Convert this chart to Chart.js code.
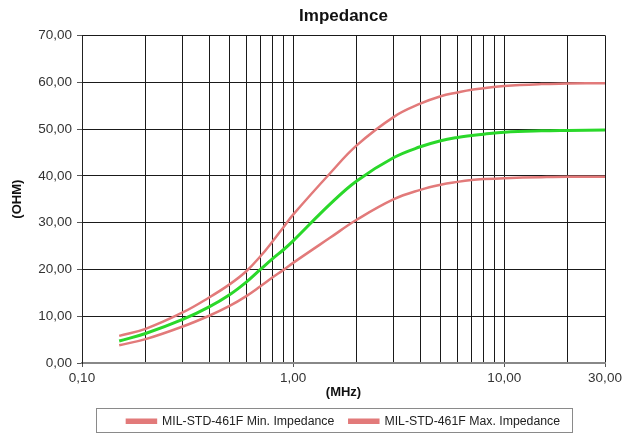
<!DOCTYPE html>
<html>
<head>
<meta charset="utf-8">
<script src="https://cdn.jsdelivr.net/npm/chart.js@4/dist/chart.umd.min.js"></script>
<style>
  html, body { margin: 0; padding: 0; background: #fff; }
  #wrap { width: 630px; height: 434px; }
</style>
</head>
<body>
<div id="wrap"><canvas id="impChart" width="630" height="434"></canvas></div>
<script>
// frekvenser (MHz) och avlästa värden (ohm)
const freqs = [0.15, 0.2, 0.3, 0.4, 0.5, 0.6, 0.7, 0.8, 0.9, 1, 1.5, 2, 3, 4, 5, 6, 7, 8, 10, 15, 20, 30];
const minImp = [3.8, 5.1, 7.8, 10.1, 12.2, 14.3, 16.4, 18.3, 19.9, 21.4, 26.8, 30.6, 35.0, 37.0, 38.1, 38.7, 39.1, 39.3, 39.5, 39.7, 39.8, 39.8];
const nomImp = [4.7, 6.3, 9.3, 12.0, 14.6, 17.3, 20.0, 22.3, 24.2, 26.1, 34.0, 38.9, 43.9, 46.2, 47.5, 48.2, 48.6, 48.9, 49.3, 49.6, 49.7, 49.8];
const maxImp = [5.8, 7.3, 10.8, 14.0, 16.8, 19.6, 22.8, 26.0, 29.0, 31.7, 40.6, 46.5, 52.6, 55.4, 57.0, 57.8, 58.4, 58.7, 59.2, 59.6, 59.7, 59.8];

const xGridTicks = [0.1, 0.2, 0.3, 0.4, 0.5, 0.6, 0.7, 0.8, 0.9, 1, 2, 3, 4, 5, 6, 7, 8, 9, 10, 20, 30];
const xLabelTicks = [0.1, 1, 10, 30];
const yTicks = [0, 10, 20, 30, 40, 50, 60, 70];

const RED = "#e27a7a";
const GREEN = "#2ad82a";
const FONT = "Liberation Sans, Arial";

const toPoints = (vals) => freqs.map((f, i) => ({ x: f, y: vals[i] }));
const fmt = (v) => v.toFixed(2).replace(".", ",");

// legenden: fast höjd + ram runt
const legendBox = {
  id: "legendBox",
  beforeLayout(chart) {
    const lg = chart.legend;
    if (lg && !lg._fixedFit) {
      const orig = lg.fit.bind(lg);
      lg.fit = function () {
        orig();
        this.height = 33;
      };
      lg._fixedFit = true;
    }
  },
  afterDraw(chart) {
    const lg = chart.legend;
    if (!lg || !lg.legendHitBoxes || !lg.legendHitBoxes.length) return;
    const boxes = lg.legendHitBoxes;
    const first = boxes[0];
    const last = boxes[boxes.length - 1];
    const x0 = Math.round(first.left - 31) + 0.5;
    const x1 = Math.round(last.left + last.width + 12) + 0.5;
    const y0 = Math.round(first.top - 7) + 0.5;
    const ctx = chart.ctx;
    ctx.save();
    ctx.strokeStyle = "#8a8a8a";
    ctx.lineWidth = 1;
    ctx.strokeRect(x0, y0, x1 - x0, 24);
    ctx.restore();
  }
};

new Chart(document.getElementById("impChart"), {
  type: "line",
  data: {
    datasets: [
      {
        label: "MIL-STD-461F Min. Impedance",
        data: toPoints(minImp),
        borderColor: RED,
        backgroundColor: RED,
        borderWidth: 2.5,
        pointRadius: 0,
        tension: 0.4,
      },
      {
        label: "MIL-STD-461F Max. Impedance",
        data: toPoints(maxImp),
        borderColor: RED,
        backgroundColor: RED,
        borderWidth: 2.5,
        pointRadius: 0,
        tension: 0.4,
      },
      {
        label: "Nominal",
        data: toPoints(nomImp),
        borderColor: GREEN,
        backgroundColor: GREEN,
        borderWidth: 3,
        pointRadius: 0,
        tension: 0.4,
      },
    ],
  },
  options: {
    responsive: false,
    animation: false,
    layout: { padding: { left: 0, right: 25, top: 0, bottom: 1 } },
    plugins: {
      title: {
        display: true,
        fullSize: false,
        text: "Impedance",
        color: "#111",
        font: { family: FONT, size: 17, weight: "bold" },
        padding: { top: 6, bottom: 9 },
      },
      legend: {
        display: true,
        fullSize: false,
        position: "bottom",
        labels: {
          filter: (item) => item.datasetIndex !== 2,
          color: "#222",
          font: { family: FONT, size: 12.3 },
          boxWidth: 29,
          boxHeight: 3,
          padding: 15,
        },
      },
      tooltip: { enabled: false },
    },
    scales: {
      x: {
        type: "logarithmic",
        min: 0.1,
        max: 30,
        afterBuildTicks: (scale) => {
          scale.ticks = xGridTicks.map((v) => ({ value: v }));
        },
        afterFit: (scale) => {
          scale.height = 37;
        },
        ticks: {
          autoSkip: false,
          maxRotation: 0,
          padding: 3,
          color: "#333",
          font: { family: FONT, size: 13.5 },
          callback: (v) => (xLabelTicks.includes(v) ? fmt(v) : ""),
        },
        grid: {
          color: "#1a1a1a",
          lineWidth: 1,
          tickLength: 4,
          tickColor: (ctx) => (ctx.tick && xLabelTicks.includes(ctx.tick.value) ? "#555" : "rgba(0,0,0,0)"),
        },
        border: { color: "#888", width: 2 },
        title: {
          display: true,
          text: "(MHz)",
          color: "#111",
          font: { family: FONT, size: 13, weight: "bold" },
          padding: { top: 0, bottom: 0 },
        },
      },
      y: {
        min: 0,
        max: 70,
        afterBuildTicks: (scale) => {
          scale.ticks = yTicks.map((v) => ({ value: v }));
        },
        afterFit: (scale) => {
          scale.width = 82;
        },
        ticks: {
          padding: 5,
          color: "#333",
          font: { family: FONT, size: 13.5 },
          callback: (v) => fmt(v),
        },
        grid: {
          color: "#1a1a1a",
          lineWidth: 1,
          tickLength: 5,
          tickColor: "#555",
        },
        border: { color: "#222", width: 1 },
        title: {
          display: true,
          text: "(OHM)",
          color: "#111",
          font: { family: FONT, size: 13, weight: "bold" },
          padding: { top: 10, bottom: 0 },
        },
      },
    },
  },
  plugins: [legendBox],
});
</script>
</body>
</html>
